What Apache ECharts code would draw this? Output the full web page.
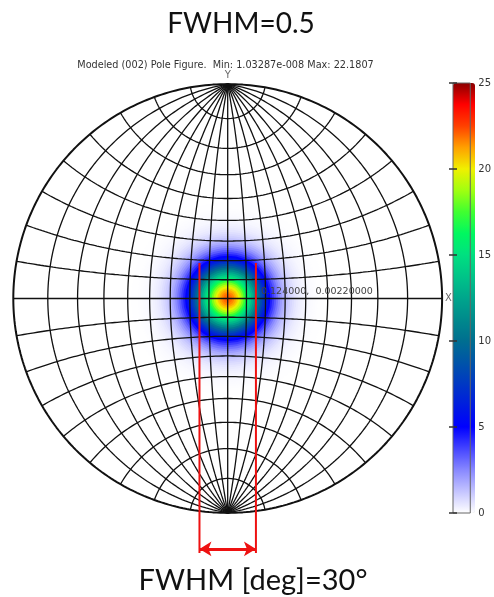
<!DOCTYPE html>
<html>
<head>
<meta charset="utf-8">
<script src="https://cdn.jsdelivr.net/npm/echarts@6/dist/echarts.min.js"></script>
<style>
  html, body { margin: 0; padding: 0; background: #ffffff; }
  #chart { width: 494px; height: 597px; }
</style>
</head>
<body>
<div id="chart"></div>
<script>
// Radial intensity profile of the (002) pole: polar angle from the pole centre (deg) -> intensity
const profileAngles = [0, 1, 2, 3, 4, 5, 6, 7, 8, 9, 10, 11, 12, 13, 14, 15, 16, 17, 18, 19, 20,
  21, 22, 23, 24, 25, 26, 27, 28, 29, 30, 31, 32, 33, 34, 35, 36, 37, 38, 39, 40,
  41, 42, 43, 44, 45, 46, 47, 48, 49, 50];
const profileValues = [22.18, 22.11, 21.91, 21.58, 21.13, 20.56, 19.89, 19.12, 18.27, 17.35, 16.38,
  15.37, 14.34, 13.30, 12.26, 11.24, 10.24, 9.29, 8.37, 7.45, 6.55,
  5.80, 5.10, 4.45, 3.88, 3.35, 2.88, 2.46, 2.09, 1.76, 1.48,
  1.23, 1.02, 0.84, 0.69, 0.56, 0.45, 0.36, 0.29, 0.23, 0.18,
  0.14, 0.11, 0.08, 0.06, 0.04, 0.03, 0.02, 0.02, 0.01, 0.01];

// Colour scale
const colorMin = 0;
const colorMax = 25;
const colorTickStep = 5;
const colorStops = ['#ffffff', '#c4c4ff', '#8888ff', '#4444ff', '#0000ff', '#001ce0', '#0038c4',
  '#0054a8', '#006e90', '#008a8c', '#00a68c', '#00c488', '#00e080', '#00f860', '#40ff30',
  '#a0ff10', '#f0f000', '#ffa000', '#ff4000', '#ff0000', '#8b0000'];

// Wulff net (stereographic), 10 degree spacing
const meridianLongitudes = [-80, -70, -60, -50, -40, -30, -20, -10, 0, 10, 20, 30, 40, 50, 60, 70, 80];
const parallelLatitudes = [-80, -70, -60, -50, -40, -30, -20, -10, 0, 10, 20, 30, 40, 50, 60, 70, 80];

// Texts
const headline = 'FWHM=0.5';
const figureTitle = 'Modeled (002) Pole Figure.  Min: 1.03287e-008 Max: 22.1807';
const cursorReadout = '0.124000,  0.00220000';
const fwhmDeg = 30;
const footline = 'FWHM [deg]=' + fwhmDeg + '°';

// Layout of the net on the page
const CX = 227.7, CY = 298.5, R = 214.4;
const Y_SPAN = 1.3;

const DEG = Math.PI / 180;
function project(latDeg, lonDeg) {
  const la = latDeg * DEG, lo = lonDeg * DEG;
  const X = Math.cos(la) * Math.sin(lo);
  const Y = Math.sin(la);
  const Z = Math.cos(la) * Math.cos(lo);
  return [X / (1 + Z), Y / (1 + Z)];
}
function meridian(lon) {
  const pts = [];
  for (let la = -90; la <= 90; la += 1) pts.push(project(la, lon));
  return pts;
}
function parallel(lat) {
  const pts = [];
  for (let lo = -90; lo <= 90; lo += 1) pts.push(project(lat, lo));
  return pts;
}
function primitive() {
  const pts = [];
  for (let a = 0; a <= 360; a += 1) pts.push([Math.cos(a * DEG), Math.sin(a * DEG)]);
  return pts;
}

const netColor = '#111111';
function netSeries(points, width) {
  return {
    type: 'line', xAxisIndex: 0, yAxisIndex: 0, data: points,
    showSymbol: false, symbol: 'none', clip: false, silent: true, z: 5,
    lineStyle: { color: netColor, width: width }, animation: false
  };
}

// Intensity rings, drawn from the outside in
const intensityData = profileAngles.map((a, i) => [a, profileValues[i]]).reverse();

const series = [];
series.push({
  type: 'custom', name: 'intensity', xAxisIndex: 0, yAxisIndex: 0,
  data: intensityData, clip: false, silent: true, z: 1, animation: false,
  encode: { x: 0, y: 1 },
  renderItem: function (params, api) {
    const ang = api.value(0);
    const outer = Math.tan((ang + 0.5) * DEG / 2);
    const c = api.coord([0, 0]);
    const rad = api.size([outer, 0])[0];
    return {
      type: 'circle',
      shape: { cx: c[0], cy: c[1], r: rad },
      style: { fill: api.visual('color') }
    };
  }
});

meridianLongitudes.forEach(lon => series.push(netSeries(meridian(lon), 1.3)));
parallelLatitudes.forEach(lat => series.push(netSeries(parallel(lat), lat === 0 ? 1.6 : 1.3)));
series.push(netSeries(primitive(), 2));

// FWHM markers
const hw = Math.tan(fwhmDeg / 4 * DEG);
const markTop = 0.166, markBottom = -1.187, arrowY = -1.168;
series.push({
  type: 'line', xAxisIndex: 0, yAxisIndex: 0, data: [[-hw, markTop], [-hw, markBottom]],
  showSymbol: false, symbol: 'none', clip: false, silent: true, z: 8, animation: false,
  lineStyle: { color: '#ee1111', width: 2 },
  markLine: {
    silent: true, animation: false,
    symbol: ['arrow', 'arrow'], symbolSize: [11, 12],
    lineStyle: { color: '#ee1111', width: 3, type: 'solid' },
    label: { show: false },
    data: [[{ coord: [-hw, arrowY] }, { coord: [hw, arrowY] }]]
  }
});
series.push({
  type: 'line', xAxisIndex: 0, yAxisIndex: 0, data: [[hw, markTop], [hw, markBottom]],
  showSymbol: false, symbol: 'none', clip: false, silent: true, z: 8, animation: false,
  lineStyle: { color: '#ee1111', width: 2 }
});

// Axis letters
series.push({
  type: 'scatter', xAxisIndex: 0, yAxisIndex: 0, symbolSize: 0, silent: true, z: 9,
  animation: false, clip: false,
  data: [
    { value: [0, 1], label: { show: true, formatter: 'Y', position: 'top', distance: 4 } },
    { value: [1, 0], label: { show: true, formatter: 'X', position: 'right', distance: 3 } }
  ],
  label: { color: '#444', fontFamily: 'DejaVu Sans', fontSize: 10 }
});

const option = {
  backgroundColor: '#ffffff',
  animation: false,
  grid: [
    { left: CX - R, top: CY - Y_SPAN * R, width: 2 * R, height: 2 * Y_SPAN * R, show: false },
    { left: 453, top: 83, width: 22, height: 430, show: true, z: 10,
      backgroundColor: 'transparent', borderColor: '#666', borderWidth: 1 }
  ],
  xAxis: [
    { type: 'value', gridIndex: 0, min: -1, max: 1, show: false },
    { type: 'value', gridIndex: 1, min: 0, max: 1, show: false }
  ],
  yAxis: [
    { type: 'value', gridIndex: 0, min: -Y_SPAN, max: Y_SPAN, show: false },
    { type: 'value', gridIndex: 1, position: 'right', min: colorMin, max: colorMax, interval: colorTickStep,
      z: 10, axisLine: { show: false }, splitLine: { show: false },
      axisTick: { show: true, inside: true, length: 4, lineStyle: { color: '#333', width: 1.5 } },
      axisLabel: { margin: 8, color: '#333', fontFamily: 'DejaVu Sans', fontSize: 10 } },
    { type: 'value', gridIndex: 1, position: 'left', min: colorMin, max: colorMax, interval: colorTickStep,
      z: 10, axisLine: { show: false }, splitLine: { show: false },
      axisTick: { show: true, inside: true, length: 4, lineStyle: { color: '#333', width: 1.5 } },
      axisLabel: { show: false } }
  ],
  visualMap: {
    type: 'continuous', seriesIndex: 0, dimension: 1,
    min: colorMin, max: colorMax, calculable: false, realtime: false,
    left: 453, top: 83, itemWidth: 22, itemHeight: 430, padding: 0,
    text: null, showLabel: false,
    inRange: { color: colorStops }
  },
  graphic: [
    { type: 'text', silent: true, z: 100,
      style: { text: headline, x: 241, y: 24, textAlign: 'center', textVerticalAlign: 'middle',
        font: '28px Lato', fill: '#111' } },
    { type: 'text', silent: true, z: 100,
      style: { text: figureTitle, x: 225.5, y: 65, textAlign: 'center', textVerticalAlign: 'middle',
        font: '9.7px "DejaVu Sans"', fill: '#333' } },
    { type: 'text', silent: true, z: 100,
      style: { text: cursorReadout, x: 261, y: 292, textAlign: 'left', textVerticalAlign: 'middle',
        font: '9.5px "DejaVu Sans"', fill: '#444' } },
    { type: 'text', silent: true, z: 100,
      style: { text: footline, x: 253, y: 581, textAlign: 'center', textVerticalAlign: 'middle',
        font: '29px Lato', fill: '#111' } }
  ],
  series: series
};

const chart = echarts.init(document.getElementById('chart'), null, { renderer: 'canvas' });
chart.setOption(option);
</script>
</body>
</html>
